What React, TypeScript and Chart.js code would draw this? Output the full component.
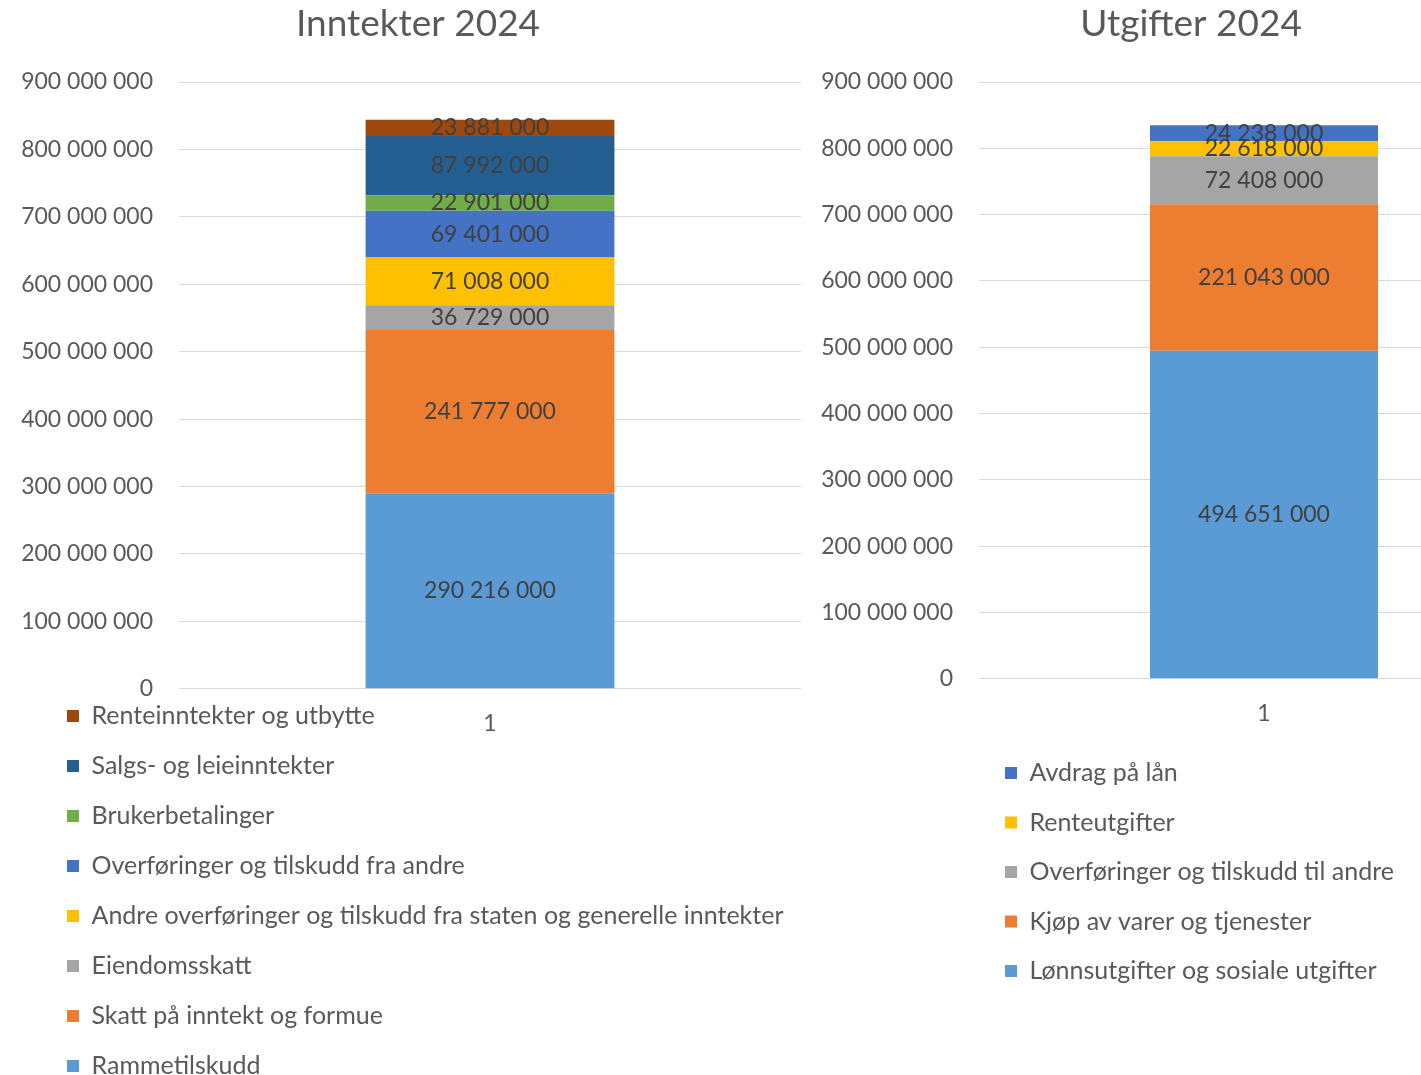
import React, { useEffect, useRef } from "react";
import { Chart, registerables } from "chart.js";

Chart.register(...registerables);

// ---------- data ----------
const categories = ["1"];

const incomeTitle = "Inntekter 2024";
const incomeLabels = [
  "Rammetilskudd",
  "Skatt på inntekt og formue",
  "Eiendomsskatt",
  "Andre overføringer og tilskudd fra staten og generelle inntekter",
  "Overføringer og tilskudd fra andre",
  "Brukerbetalinger",
  "Salgs- og leieinntekter",
  "Renteinntekter og utbytte",
];
const incomeValues = [290216000, 241777000, 36729000, 71008000, 69401000, 22901000, 87992000, 23881000];
const incomeColors = ["#5B9BD5", "#ED7D31", "#A5A5A5", "#FFC000", "#4472C4", "#70AD47", "#255E91", "#9E480E"];

const expenseTitle = "Utgifter 2024";
const expenseLabels = [
  "Lønnsutgifter og sosiale utgifter",
  "Kjøp av varer og tjenester",
  "Overføringer og tilskudd til andre",
  "Renteutgifter",
  "Avdrag på lån",
];
const expenseValues = [494651000, 221043000, 72408000, 22618000, 24238000];
const expenseColors = ["#5B9BD5", "#ED7D31", "#A5A5A5", "#FFC000", "#4472C4"];

const yMin = 0;
const yMax = 900000000;
const yStep = 100000000;

// ---------- helpers ----------
const FONT = "Lato";
const TICK_SIZE = 23;
const LEGEND_SIZE = 25;
const TITLE_SIZE = 37;
const fmt = (n: number) => String(n).replace(/\B(?=(\d{3})+(?!\d))/g, " ");

const valueLabels = {
  id: "valueLabels",
  afterDatasetsDraw(chart: any) {
    const ctx = chart.ctx;
    ctx.save();
    ctx.font = `${TICK_SIZE}px ${FONT}`;
    ctx.fillStyle = "#404040";
    ctx.textAlign = "center";
    ctx.textBaseline = "middle";
    chart.data.datasets.forEach((ds: any, i: number) => {
      const meta = chart.getDatasetMeta(i);
      meta.data.forEach((el: any, j: number) => {
        const p = el.getProps(["x", "y", "base"], true);
        ctx.fillText(fmt(ds.data[j]), p.x, (p.y + p.base) / 2);
      });
    });
    ctx.restore();
  },
};

const boxMover = {
  id: "boxMover",
  afterLayout(chart: any, _args: any, opts: any) {
    const lg = chart.legend;
    if (lg) {
      const pad = lg.options.labels.padding;
      const fs = lg.options.labels.font.size;
      lg.left = opts.x - pad;
      lg.top = opts.y - pad - fs / 2;
      lg.right = lg.left + 1000;
      lg.bottom = lg.top + 1000;
    }
    const tb = chart.titleBlock;
    if (tb) {
      tb.left += opts.titleDx;
      tb.right += opts.titleDx;
    }
  },
};

type PanelProps = {
  left: number;
  width: number;
  title: string;
  labels: string[];
  values: number[];
  colors: string[];
  yAxisWidth: number;
  tickPad: number;
  areaBottom: number;
  legendX: number;
  legendY: number;
  legendStep: number;
  titleDx: number;
};

function Panel(p: PanelProps) {
  const ref = useRef<HTMLCanvasElement | null>(null);
  useEffect(() => {
    if (!ref.current) return;
    const H = 1075;
    const xPad = 21;
    const xAxisH = 69.4;
    const chart = new Chart(ref.current, {
      type: "bar",
      data: {
        labels: categories,
        datasets: p.labels.map((lab, i) => ({
          label: lab,
          data: [p.values[i]],
          backgroundColor: p.colors[i],
          borderWidth: 0,
          categoryPercentage: 0.8,
          barPercentage: 0.5,
        })),
      },
      options: {
        responsive: false,
        animation: false,
        devicePixelRatio: 1,
        layout: {
          padding: { left: 0, right: 0, top: 0, bottom: H - p.areaBottom - xAxisH },
        },
        scales: {
          x: {
            stacked: true,
            grid: { display: false, drawTicks: false },
            border: { display: false },
            ticks: { color: "#595959", font: { family: FONT, size: TICK_SIZE }, padding: xPad },
          },
          y: {
            stacked: true,
            min: yMin,
            max: yMax,
            afterFit: (s: any) => {
              s.width = p.yAxisWidth;
            },
            grid: { color: "#D9D9D9", lineWidth: 1, drawTicks: false },
            border: { display: false },
            ticks: {
              stepSize: yStep,
              color: "#595959",
              font: { family: FONT, size: TICK_SIZE },
              padding: p.tickPad,
              callback: (v: any) => fmt(Number(v)),
            },
          },
        },
        plugins: {
          title: {
            display: true,
            text: p.title,
            color: "#595959",
            font: { family: FONT, size: TITLE_SIZE, weight: "normal" },
            padding: { top: 2, bottom: 82 - 2 - TITLE_SIZE * 1.2 },
          },
          legend: {
            display: true,
            position: "chartArea",
            align: "start",
            reverse: true,
            labels: {
              color: "#595959",
              font: { family: FONT, size: LEGEND_SIZE },
              boxWidth: 12,
              boxHeight: 12,
              padding: p.legendStep - LEGEND_SIZE,
            },
          },
          tooltip: { enabled: false },
          boxMover: { x: p.legendX, y: p.legendY, titleDx: p.titleDx },
        } as any,
      },
      plugins: [valueLabels, boxMover],
    } as any);
    return () => chart.destroy();
  }, []);
  return (
    <canvas
      ref={ref}
      width={p.width}
      height={1075}
      style={{ position: "absolute", left: p.left, top: 0, width: p.width, height: 1075 }}
    />
  );
}

export default function App() {
  return (
    <div
      style={{
        position: "fixed",
        left: 0,
        top: 0,
        width: 1421,
        height: 1075,
        overflow: "hidden",
        background: "#ffffff",
      }}
    >
      <Panel
        left={0}
        width={801}
        title={incomeTitle}
        labels={incomeLabels}
        values={incomeValues}
        colors={incomeColors}
        yAxisWidth={179}
        tickPad={26}
        areaBottom={689}
        legendX={67}
        legendY={716}
        legendStep={50}
        titleDx={17.5}
      />
      <Panel
        left={800}
        width={749}
        title={expenseTitle}
        labels={expenseLabels}
        values={expenseValues}
        colors={expenseColors}
        yAxisWidth={179}
        tickPad={26}
        areaBottom={679}
        legendX={205}
        legendY={773}
        legendStep={49.5}
        titleDx={16.5}
      />
    </div>
  );
}
